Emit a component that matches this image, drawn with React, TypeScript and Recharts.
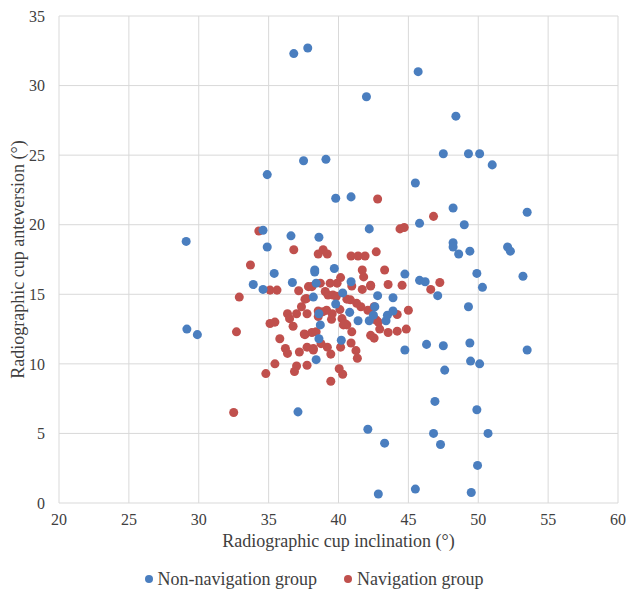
import { CartesianGrid, Legend, Scatter, ScatterChart, XAxis, YAxis } from 'recharts'

// Non-navigation group: [inclination, anteversion]
const nonNavPoints: [number, number][] = [
  [36.8, 32.3], [37.8, 32.7], [37.5, 24.6], [34.9, 23.6], [34.6, 19.6], [29.1, 18.8],
  [34.9, 18.4], [36.6, 19.2], [38.6, 19.1], [45.7, 31.0], [42.0, 29.2], [48.4, 27.8],
  [39.1, 24.7], [47.5, 25.1], [49.3, 25.1], [50.1, 25.1], [51.0, 24.3], [45.5, 23.0],
  [39.8, 21.9], [40.9, 22.0], [48.2, 21.2], [53.5, 20.9], [42.2, 19.7], [45.8, 20.1],
  [49.0, 20.0], [48.2, 18.7], [48.2, 18.4], [48.6, 17.9], [49.4, 18.1], [52.1, 18.4],
  [52.3, 18.1], [38.3, 16.75], [38.3, 16.6], [39.7, 16.85], [44.75, 16.45], [49.9, 16.5],
  [53.2, 16.3], [45.8, 16.0], [46.2, 15.9], [50.3, 15.5], [47.1, 14.9], [49.3, 14.1],
  [42.8, 14.9], [43.9, 14.75], [40.9, 15.9], [46.3, 11.4], [47.5, 11.3], [49.4, 11.5],
  [53.5, 11.0], [44.75, 11.0], [49.45, 10.2], [50.1, 10.0], [47.6, 9.55], [46.9, 7.3],
  [49.9, 6.7], [42.1, 5.3], [46.8, 5.0], [50.7, 5.0], [43.3, 4.3], [47.3, 4.2],
  [49.95, 2.7], [45.5, 1.0], [42.85, 0.65], [49.5, 0.75], [41.4, 13.1], [42.2, 13.1],
  [43.4, 13.1], [43.5, 13.5], [43.9, 13.8], [40.2, 11.7], [38.4, 10.3], [38.7, 12.8],
  [38.6, 11.8], [37.1, 6.55], [39.8, 14.3], [40.3, 15.1], [40.8, 13.7], [38.6, 13.6],
  [38.4, 15.8], [42.6, 14.1], [42.5, 13.5], [35.4, 16.5], [33.9, 15.7], [34.6, 15.35],
  [36.7, 15.85], [29.15, 12.5], [29.9, 12.1], [38.2, 14.8],
]

// Navigation group: [inclination, anteversion]
const navPoints: [number, number][] = [
  [34.3, 19.55], [36.8, 18.2], [38.55, 17.9], [42.8, 21.85], [46.8, 20.6], [44.4, 19.7],
  [44.7, 19.8], [38.9, 18.2], [39.2, 17.9], [40.9, 17.75], [41.4, 17.75], [41.9, 17.75],
  [42.7, 18.05], [41.7, 16.75], [41.8, 16.25], [43.3, 16.75], [40.15, 16.2], [39.9, 15.8],
  [41.7, 15.35], [42.3, 15.65], [43.55, 15.7], [44.55, 15.65], [46.6, 15.35], [47.25, 15.85],
  [45.0, 13.85], [44.2, 13.55], [44.85, 12.5], [44.2, 12.35], [43.55, 12.25], [42.95, 12.5],
  [42.55, 11.85], [42.3, 12.05], [42.7, 13.15], [42.55, 14.1], [42.1, 13.85], [41.6, 14.1],
  [41.3, 14.35], [40.85, 14.6], [40.6, 14.65], [40.1, 13.9], [40.25, 13.25], [40.35, 12.8],
  [40.6, 12.8], [40.95, 12.3], [40.9, 11.5], [40.15, 11.2], [41.25, 10.95], [41.35, 10.4],
  [40.05, 9.65], [40.3, 9.25], [39.45, 8.75], [39.45, 10.7], [39.2, 11.2], [38.75, 11.45],
  [38.2, 11.1], [37.75, 11.2], [37.75, 9.9], [37.6, 12.1], [38.1, 12.25], [38.4, 12.3],
  [37.75, 13.6], [38.55, 13.8], [38.9, 13.75], [39.5, 13.2], [39.55, 13.6], [39.15, 13.85],
  [38.7, 15.8], [38.1, 15.55], [37.7, 14.7], [37.35, 14.1], [39.05, 15.2], [39.25, 14.95],
  [39.6, 14.95], [39.85, 14.85], [39.4, 15.8], [42.85, 13.0], [33.7, 17.1], [32.9, 14.8],
  [32.7, 12.3], [32.5, 6.5], [35.1, 15.3], [35.6, 15.3], [35.1, 12.9], [35.45, 13.0],
  [35.8, 11.8], [35.45, 10.0], [34.8, 9.3], [36.2, 11.1], [36.35, 10.75], [36.35, 13.6],
  [36.5, 13.25], [36.75, 12.7], [37.0, 13.6], [37.15, 15.25], [37.6, 14.65], [37.2, 10.85],
  [37.0, 9.85], [36.85, 9.45], [37.55, 12.15], [38.2, 11.0], [37.85, 15.55], [40.95, 15.6],
  [42.3, 15.6], [38.55, 13.4], [40.45, 12.9],
]

const xTicks = [20, 25, 30, 35, 40, 45, 50, 55, 60]
const yTicks = [0, 5, 10, 15, 20, 25, 30, 35]

const BLUE = '#4a7ebf'
const RED = '#c0504d'
const TEXT = '#404040'
const FONT = '"Liberation Serif", "Times New Roman", serif'

const toRows = (pts: [number, number][]) => pts.map(([x, y]) => ({ x, y }))

function LegendContent() {
  const items = [
    { label: 'Non-navigation group', color: BLUE },
    { label: 'Navigation group', color: RED },
  ]
  return (
    <div style={{ height: 32, display: 'flex', justifyContent: 'center', alignItems: 'center', gap: 27, paddingLeft: 2, fontFamily: FONT, fontSize: 18, color: TEXT }}>
      {items.map(it => (
        <div key={it.label} style={{ display: 'flex', alignItems: 'center', gap: 5 }}>
          <span style={{ width: 8, height: 8, borderRadius: '50%', background: it.color, display: 'inline-block' }} />
          <span>{it.label}</span>
        </div>
      ))}
    </div>
  )
}

function YTitle({ viewBox }: any) {
  const cy = viewBox.y + viewBox.height / 2
  return (
    <text x={18} y={cy} transform={`rotate(-90, 18, ${cy})`} textAnchor="middle" dominantBaseline="central" fill={TEXT} fontSize={18} fontFamily={FONT}>
      Radiographic cup anteversion (°)
    </text>
  )
}

function XTitle({ viewBox }: any) {
  const cx = viewBox.x + viewBox.width / 2
  return (
    <text x={cx} y={547} textAnchor="middle" fill={TEXT} fontSize={18} fontFamily={FONT}>
      Radiographic cup inclination (°)
    </text>
  )
}

export default function App() {
  const tick = { fontSize: 16, fill: TEXT, fontFamily: FONT }
  return (
    <div style={{ position: 'fixed', top: 0, left: 0, width: 627, height: 595, background: '#fff' }}>
      <ScatterChart width={627} height={595} margin={{ top: 16, right: 9, left: 8, bottom: 0 }} style={{ overflow: 'visible' }}>
        <CartesianGrid stroke="#d9d9d9" />
        <XAxis type="number" dataKey="x" domain={[20, 60]} ticks={xTicks} tick={tick} tickLine={false} axisLine={false}
          tickSize={6} tickMargin={5} height={60} label={<XTitle />} />
        <YAxis type="number" dataKey="y" domain={[0, 35]} ticks={yTicks} tick={tick} tickLine={false} axisLine={false}
          tickSize={6} tickMargin={8} width={51} label={<YTitle />} />
        <Legend verticalAlign="bottom" content={<LegendContent />} />
        <Scatter name="Navigation group" data={toRows(navPoints)} fill={RED} isAnimationActive={false} />
        <Scatter name="Non-navigation group" data={toRows(nonNavPoints)} fill={BLUE} isAnimationActive={false} />
      </ScatterChart>
    </div>
  )
}
